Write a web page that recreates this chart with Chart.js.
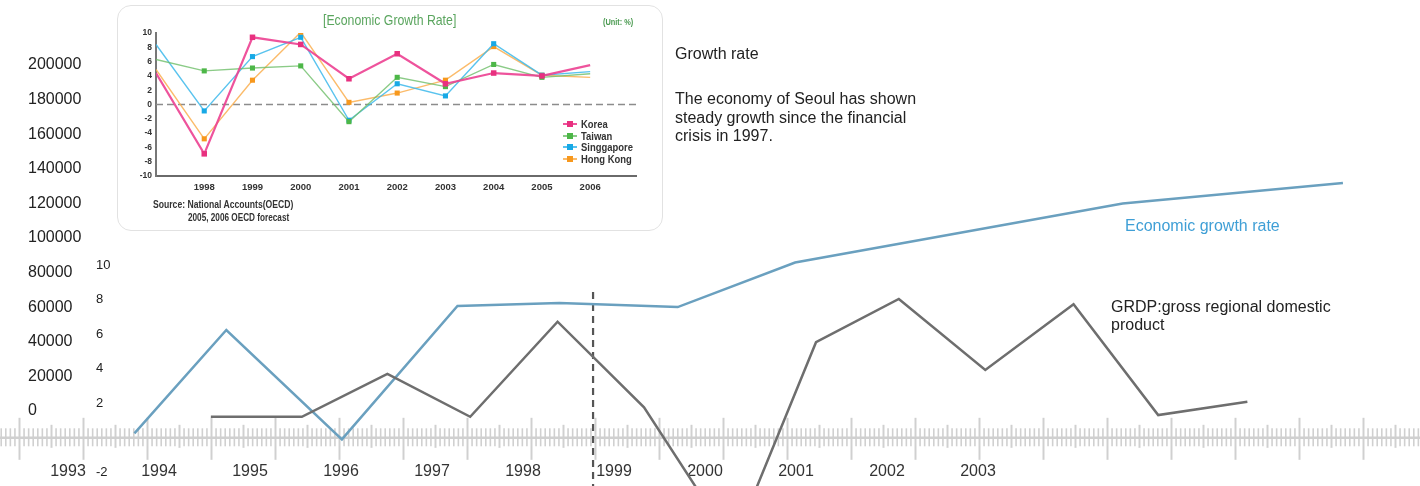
<!DOCTYPE html>
<html>
<head>
<meta charset="utf-8">
<title>Seoul growth rate</title>
<script src="https://cdn.jsdelivr.net/npm/chart.js@4.4.1/dist/chart.umd.min.js"></script>
<style>
  html, body { margin: 0; padding: 0; background: #fff; }
  #wrap { position: relative; width: 1420px; height: 486px; overflow: hidden;
          font-family: "Liberation Sans", Arial, sans-serif; color: #222; }
  #mainChart { position: absolute; left: 0; top: 0; }
  .note { position: absolute; font-size: 16px; line-height: 19px; white-space: nowrap; }
  #inset { position: absolute; left: 117px; top: 5px; width: 544px; height: 224px;
           border: 1px solid #e2e2e2; border-radius: 14px; background: #fff; }
  #insetChart { position: absolute; left: 0; top: 0; }
  /* condensed look: no narrow face installed, so squeeze Liberation Sans */
  .narrow { position: absolute; white-space: nowrap; color: #333;
            font-family: "Liberation Sans", Arial, sans-serif;
            transform: scaleX(0.82); transform-origin: 0 50%; }
  .leg { position: absolute; left: 445px; width: 80px; height: 12px; }
  .leg .ln { position: absolute; left: 0; top: 5px; width: 14px; height: 2px; }
  .leg .sq { position: absolute; left: 4px; top: 3px; width: 6px; height: 6px; }
  .leg .tx { position: absolute; left: 18px; top: 0; line-height: 12px; font-size: 11.5px;
             font-weight: bold; color: #333; white-space: nowrap;
             transform: scaleX(0.82); transform-origin: 0 50%; }
</style>
</head>
<body>
<div id="wrap">
  <canvas id="mainChart" width="1420" height="486"></canvas>

  <div class="note" style="left:675px; top:44px;">Growth rate</div>
  <div class="note" style="left:675px; top:90px; line-height:18.7px;">The economy of Seoul has shown<br>steady growth since the financial<br>crisis in 1997.</div>
  <div class="note" style="left:1125px; top:216px; color:#3f9fd6;">Economic growth rate</div>
  <div class="note" style="left:1111px; top:298px; line-height:18px;">GRDP:gross regional domestic<br>product</div>

  <div id="inset">
    <canvas id="insetChart" width="544" height="224"></canvas>
    <div class="narrow" style="left:205px; top:6px; font-size:15px; line-height:16px; color:#5aa55e;">[Economic Growth Rate]</div>
    <div class="narrow" style="left:485px; top:11px; font-size:9px; line-height:10px; font-weight:bold; color:#4a9a50;">(Unit: %)</div>
    <div class="narrow" style="left:35px; top:192px; font-size:10.5px; line-height:12px; font-weight:bold;">Source: National Accounts(OECD)</div>
    <div class="narrow" style="left:70px; top:206px; font-size:10px; line-height:12px; font-weight:bold;">2005, 2006 OECD forecast</div>
    <div id="insetLegend"></div>
  </div>
</div>

<script>
// main chart data
const yearTicks = [1993, 1994, 1995, 1996, 1997, 1998, 1999, 2000, 2001, 2002, 2003];
const growthTicks = [10, 8, 6, 4, 2, -2];
const grdpTicks = [0, 20000, 40000, 60000, 80000, 100000, 120000, 140000, 160000, 180000, 200000];

const rateYears = [1993.73, 1994.74, 1996.01, 1997.28, 1998.40, 1999.70, 2000.99, 2004.59, 2007.01];
const rateValues = [0.26, 6.25, -0.09, 7.64, 7.81, 7.58, 10.16, 13.58, 14.77];

const grdpYears = [1994.57, 1995.57, 1996.51, 1997.42, 1998.38, 1999.33, 2000.31, 2001.22, 2002.13, 2003.08, 2004.05, 2004.98, 2005.96];
const grdpValues = [1.22, 1.22, 3.70, 1.22, 6.73, 1.77, -6.19, 5.54, 8.05, 3.93, 7.74, 1.32, 2.09];

const crisisYear = 1998.77;
const crisisSpan = [8.45, -4];

// inset chart data
const insetYears = [1997, 1998, 1999, 2000, 2001, 2002, 2003, 2004, 2005, 2006];
const insetXTicks = [1998, 1999, 2000, 2001, 2002, 2003, 2004, 2005, 2006];
const korea = [4.4, -6.9, 9.4, 8.4, 3.6, 7.1, 2.9, 4.4, 4.0, 5.5];
const taiwan = [6.3, 4.7, 5.1, 5.4, -2.4, 3.8, 2.5, 5.6, 3.8, 4.3];
const singapore = [8.4, -0.9, 6.7, 9.4, -2.2, 2.9, 1.2, 8.5, 4.1, 4.6];
const hongKong = [4.9, -4.8, 3.4, 10.1, 0.3, 1.6, 3.4, 8.1, 4.1, 3.8];

const sans = '"Liberation Sans", Arial, sans-serif';

function zeroPad(s) {
    s.paddingTop = 0; s.paddingBottom = 0; s.paddingLeft = 0; s.paddingRight = 0;
}
function pts(xs, ys) {
    return xs.map((x, i) => ({ x: x, y: ys[i] }));
}

// ruler drawn along the zero line of the growth axis
const rulerPlugin = {
    id: 'ruler',
    beforeDatasetsDraw(chart) {
        const { ctx, chartArea } = chart;
        const y = chart.scales.g.getPixelForValue(0);
        const tick = (x, up, down, w) => {
            ctx.lineWidth = w;
            ctx.beginPath();
            ctx.moveTo(x, y - up);
            ctx.lineTo(x, y + down);
            ctx.stroke();
        };
        ctx.save();
        ctx.strokeStyle = '#d0d0d0';
        ctx.lineWidth = 2.5;
        ctx.beginPath();
        ctx.moveTo(chartArea.left, y);
        ctx.lineTo(chartArea.right, y);
        ctx.stroke();
        const half = 32;
        for (let i = 0; ; i++) {
            const x0 = chartArea.left + 19.5 - 2 * half + i * half;
            if (x0 > chartArea.right) break;
            const major = i % 2 === 0;
            tick(x0, major ? 20 : 13, major ? 22 : 10, 2);
            for (let k = 1; k < 7; k++) tick(x0 + k * half / 7, 9.5, 8.5, 1.6);
        }
        ctx.restore();
    }
};

new Chart(document.getElementById('mainChart'), {
    type: 'line',
    data: {
        datasets: [{
            label: 'GRDP',
            data: pts(grdpYears, grdpValues),
            borderColor: '#6e6e6e',
            borderWidth: 2.5,
            pointRadius: 0,
            tension: 0,
            xAxisID: 'x', yAxisID: 'g'
        }, {
            label: 'Economic growth rate',
            data: pts(rateYears, rateValues),
            borderColor: '#6aa0bf',
            borderWidth: 2.5,
            pointRadius: 0,
            tension: 0,
            xAxisID: 'x', yAxisID: 'g'
        }, {
            label: 'crisis',
            data: [{ x: crisisYear, y: crisisSpan[0] }, { x: crisisYear, y: crisisSpan[1] }],
            borderColor: '#555',
            borderWidth: 2.2,
            borderDash: [7, 5],
            pointRadius: 0,
            xAxisID: 'x', yAxisID: 'g'
        }]
    },
    options: {
        responsive: false,
        animation: false,
        events: [],
        layout: { padding: 0, autoPadding: false },
        plugins: { legend: { display: false }, tooltip: { enabled: false } },
        scales: {
            x: {
                type: 'linear',
                min: 1992.253,
                max: 2007.857,
                position: { g: 0 },
                afterBuildTicks: s => { s.ticks = yearTicks.map(v => ({ value: v })); },
                afterFit: zeroPad,
                grid: { display: false },
                border: { display: false },
                ticks: {
                    padding: 16, color: '#333', maxRotation: 0, autoSkip: false,
                    font: { family: sans, size: 16 },
                    callback: v => String(v)
                }
            },
            g: {
                type: 'linear',
                position: 'left',
                min: -2.794,
                max: 25.38,
                afterBuildTicks: s => { s.ticks = growthTicks.map(v => ({ value: v })); },
                afterFit: s => { zeroPad(s); s.width = 0; },
                grid: { display: false },
                border: { display: false },
                ticks: {
                    mirror: true, padding: 96, color: '#222',
                    font: { family: sans, size: 13 },
                    callback: v => String(v)
                }
            },
            m: {
                type: 'linear',
                position: 'left',
                min: -43353,
                max: 237572,
                afterBuildTicks: s => { s.ticks = grdpTicks.map(v => ({ value: v })); },
                afterFit: s => { zeroPad(s); s.width = 0; },
                grid: { display: false },
                border: { display: false },
                ticks: {
                    mirror: true, padding: 28, color: '#222',
                    font: { family: sans, size: 16 },
                    callback: v => String(v)
                }
            }
        }
    },
    plugins: [rulerPlugin]
});

// inset chart
const series = [
    { label: 'Korea', values: korea, line: 'rgba(236,64,145,0.9)', mark: '#e8307f', width: 2.2, r: 3.9 },
    { label: 'Taiwan', values: taiwan, line: 'rgba(110,190,105,0.8)', mark: '#4db748', width: 1.4, r: 3.6 },
    { label: 'Singgapore', values: singapore, line: 'rgba(60,185,235,0.85)', mark: '#17a9e6', width: 1.4, r: 3.6 },
    { label: 'Hong Kong', values: hongKong, line: 'rgba(250,175,80,0.85)', mark: '#f7981d', width: 1.4, r: 3.6 }
];
const last = insetYears.length - 1;

const insetDatasets = series.map(s => ({
    label: s.label,
    data: pts(insetYears, s.values),
    borderColor: s.line,
    borderWidth: s.width,
    backgroundColor: s.mark,
    pointStyle: 'rect',
    pointBorderWidth: 0,
    pointRadius: insetYears.map((y, i) => (i === 0 || i === last) ? 0 : s.r),
    tension: 0
}));
insetDatasets.push({
    label: 'zero',
    data: [{ x: insetYears[0], y: 0 }, { x: 2006.95, y: 0 }],
    borderColor: '#8c8c8c',
    borderWidth: 1.4,
    borderDash: [7, 4],
    pointRadius: 0
});

new Chart(document.getElementById('insetChart'), {
    type: 'line',
    data: { datasets: insetDatasets },
    options: {
        responsive: false,
        animation: false,
        events: [],
        layout: { padding: { top: 27, right: 26, left: 0, bottom: 0 }, autoPadding: false },
        plugins: { legend: { display: false }, tooltip: { enabled: false } },
        scales: {
            x: {
                type: 'linear',
                min: 1997,
                max: 2006.95,
                afterBuildTicks: s => { s.ticks = insetXTicks.map(v => ({ value: v })); },
                afterFit: s => { zeroPad(s); s.height = 54; },
                grid: { drawOnChartArea: false, drawTicks: false },
                border: { color: '#6a6a6a', width: 2 },
                ticks: {
                    padding: 6, color: '#333', maxRotation: 0, autoSkip: false,
                    font: { family: sans, size: 9.5, weight: 'bold' },
                    callback: v => String(v)
                }
            },
            y: {
                type: 'linear',
                min: -10,
                max: 10,
                afterFit: s => { zeroPad(s); s.width = 38; },
                grid: { drawOnChartArea: false, drawTicks: false },
                border: { color: '#777', width: 2 },
                ticks: {
                    stepSize: 2, padding: 4, color: '#333',
                    font: { family: sans, size: 8.5, weight: 'bold' },
                    callback: v => String(v)
                }
            }
        }
    }
});

// inset legend, built from the series
const legend = document.getElementById('insetLegend');
series.forEach((s, i) => {
    const row = document.createElement('div');
    row.className = 'leg';
    row.style.top = (112 + i * 11.7) + 'px';
    row.innerHTML = '<span class="ln" style="background:' + s.line + '"></span>' +
        '<span class="sq" style="background:' + s.mark + '"></span>' +
        '<span class="tx">' + s.label + '</span>';
    legend.appendChild(row);
});
</script>
</body>
</html>
